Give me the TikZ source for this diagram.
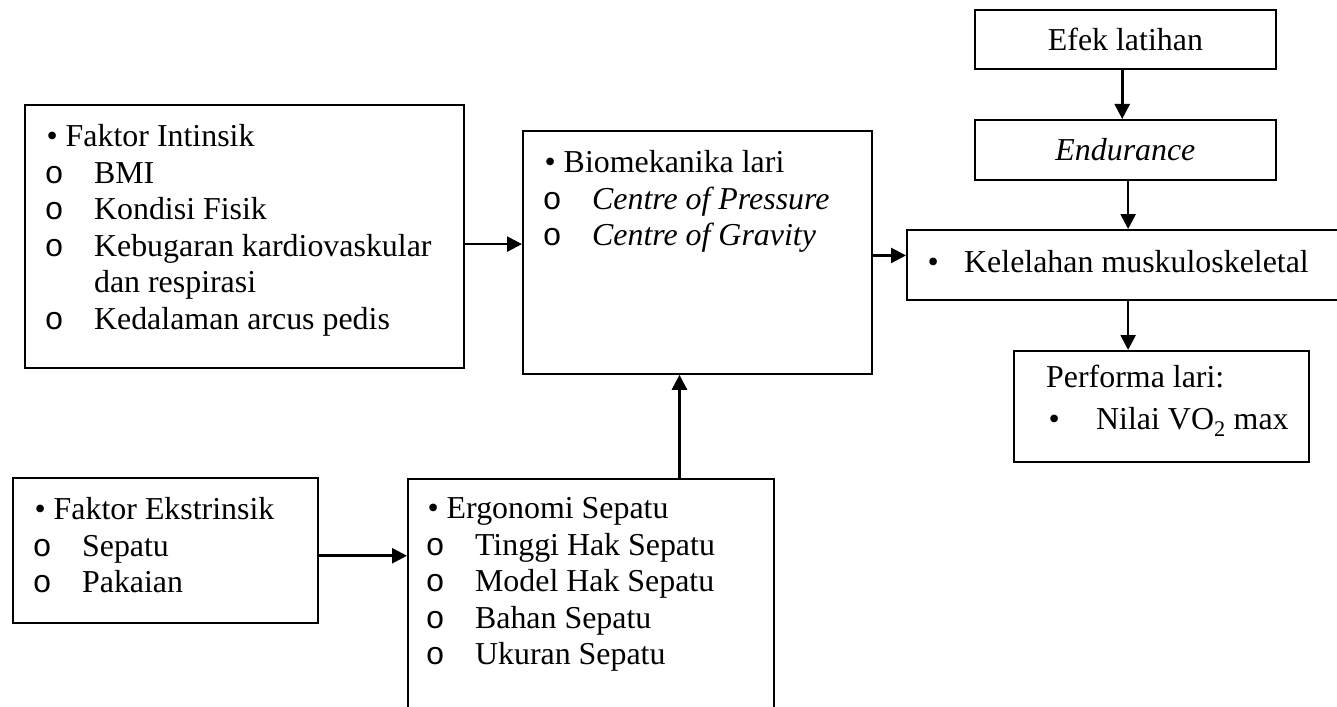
\documentclass[tikz,border=0pt]{standalone}
\usepackage{fontspec}
\setmainfont{Liberation Serif}
\newfontfamily\monof{Liberation Mono}
\usetikzlibrary{arrows.meta}
\tikzstyle{kotak}=[draw, line width=1.8pt, inner sep=0pt, anchor=north west]
\tikzstyle{isi}=[anchor=north west, align=left, inner sep=0pt]
\tikzstyle{panah}=[line width=2.6pt, -{Triangle[length=15pt,width=15pt]}]
\newcommand{\bulat}{\makebox[47.5pt][l]{\hspace*{-2pt}{\monof o}}}

\begin{document}
\begin{tikzpicture}[x=1pt, y=-1pt, font=\fontsize{31.9}{36.6}\selectfont]
            \useasboundingbox (0,0) rectangle (1337,706);
            \clip (0,0) rectangle (1337,706);
            % Kotak
            \node[kotak, minimum width=439pt, minimum height=263pt] (intrinsik) at (24,104) {};
            \node[kotak, minimum width=305pt, minimum height=145pt] (ekstrinsik) at (12,477) {};
            \node[kotak, minimum width=366pt, minimum height=242pt] (ergonomi) at (407,478) {};
            \node[kotak, minimum width=349pt, minimum height=243pt] (biomekanika) at (522,130) {};
            \node[kotak, minimum width=301pt, minimum height=59pt] (efek) at (974,9) {Efek latihan};
            \node[kotak, minimum width=301pt, minimum height=60pt] (endurance) at (974,119) {\textit{Endurance}};
            \node[kotak, minimum width=440pt, minimum height=70pt] (kelelahan) at (906,229) {};
            \node[kotak, minimum width=295pt, minimum height=111pt] (performa) at (1013,350) {};
            % Teks
            \node[isi] (intrinsik-isi) at (46.4,124.2) {\textbullet\ Faktor Intinsik\\ \bulat BMI\\ \bulat Kondisi Fisik\\ \bulat Kebugaran kardiovaskular\\ \hspace*{47.5pt}dan respirasi\\ \bulat Kedalaman arcus pedis};
            \node[isi] (ekstrinsik-isi) at (34.4,497.2) {\textbullet\ Faktor Ekstrinsik\\ \bulat Sepatu\\ \bulat Pakaian};
            \node[isi] (ergonomi-isi) at (427.4,497.2) {\textbullet\ Ergonomi Sepatu\\ \bulat Tinggi Hak Sepatu\\ \bulat Model Hak Sepatu\\ \bulat Bahan Sepatu\\ \bulat Ukuran Sepatu};
            \node[isi] (biomekanika-isi) at (544.4,150.2) {\textbullet\ Biomekanika lari\\ \bulat\textit{Centre of Pressure}\\ \bulat\textit{Centre of Gravity}};
            \node[isi, anchor=base west] (kelelahan-isi) at (927.4,272) {\makebox[36.6pt][l]{\textbullet}Kelelahan muskuloskeletal};
            \node[isi] (performa-isi) at (1046,365.2) {Performa lari:\\[5.4pt] \hspace*{2.4pt}\makebox[47.6pt][l]{\textbullet}Nilai VO\textsubscript{2} max};
            % Panah
            \draw[panah] (intrinsik.-2.5) -- (intrinsik.-2.5 -| biomekanika.west);
            \draw[panah] (ekstrinsik.-2.44) -- (ekstrinsik.-2.44 -| ergonomi.west);
            \draw[panah] (ergonomi.54) -- (ergonomi.54 |- biomekanika.south);
            \draw[panah] (biomekanika.-1.15) -- (biomekanika.-1.15 -| kelelahan.west);
            \draw[panah] (efek.-96.77) -- (efek.-96.77 |- endurance.north);
            \draw[panah] (endurance.-85.24) -- (endurance.-85.24 |- kelelahan.north);
            \draw[panah] (endurance.-85.24 |- kelelahan.south) -- (endurance.-85.24 |- performa.north);
\end{tikzpicture}
\end{document}
